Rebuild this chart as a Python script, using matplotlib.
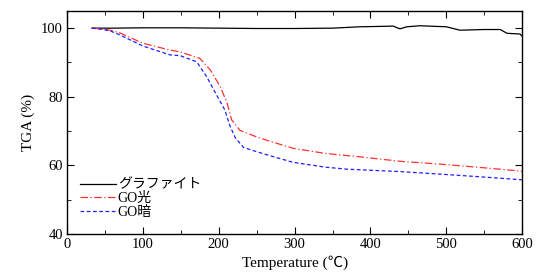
import matplotlib
matplotlib.use('Agg')
import matplotlib.pyplot as plt
from matplotlib.ticker import MultipleLocator

plt.rcParams['font.family'] = ['Liberation Serif', 'Noto Sans CJK JP']

# graphite (black)
t_gr = [33, 60, 100, 150, 200, 250, 300, 350, 386, 410, 430, 439, 448, 465, 500, 518, 549, 571, 580, 597, 600]
v_gr = [100.0, 100.0, 100.1, 100.1, 100.0, 99.9, 99.9, 100.0, 100.4, 100.5, 100.6, 99.8, 100.4, 100.7, 100.4, 99.4, 99.6, 99.6, 98.5, 98.3, 97.7]

# GO light (red)
t_r = [33, 45, 57, 70, 100, 136, 149, 175, 189, 202, 211, 217, 228, 250, 268, 298, 340, 386, 439, 496, 550, 600]
v_r = [100.0, 99.8, 99.4, 98.6, 95.6, 93.6, 93.1, 91.2, 87.8, 83.0, 78.2, 73.3, 70.2, 68.3, 67.0, 65.0, 63.5, 62.5, 61.2, 60.3, 59.3, 58.3]

# GO dark (blue)
t_b = [33, 45, 57, 70, 100, 136, 149, 171, 184, 197, 208, 215, 222, 233, 250, 268, 298, 340, 369, 439, 496, 550, 600]
v_b = [100.0, 99.7, 99.2, 98.0, 94.8, 92.2, 92.0, 90.2, 85.9, 80.6, 76.2, 71.4, 68.0, 65.2, 64.0, 62.8, 60.9, 59.5, 58.9, 58.2, 57.4, 56.6, 55.8]

labels = ['グラファイト', 'GO光', 'GO暗']

fig = plt.figure(figsize=(5.4, 2.75), dpi=100)
ax = fig.add_axes([0.124, 0.149, 0.843, 0.811])

ax.plot(t_gr, v_gr, color='black', lw=0.9, label=labels[0])
ax.plot(t_r, v_r, color='#ff3030', lw=0.9, ls=(0, (6, 2, 1, 2)), label=labels[1])
ax.plot(t_b, v_b, color='#2020ff', lw=0.9, ls=(0, (3, 2)), label=labels[2])

ax.set_xlim(0, 600)
ax.set_ylim(40, 105)
ax.xaxis.set_major_locator(MultipleLocator(100))
ax.xaxis.set_minor_locator(MultipleLocator(50))
ax.yaxis.set_major_locator(MultipleLocator(20))
ax.yaxis.set_minor_locator(MultipleLocator(10))
ax.tick_params(which='both', direction='in', top=True, right=True, labelsize=10.5, pad=3)
ax.tick_params(which='major', length=5)
ax.tick_params(which='minor', length=3)
for s in ax.spines.values():
    s.set_linewidth(1.0)

ax.set_xlabel('Temperature (℃)', fontsize=11, labelpad=3)
ax.set_ylabel('TGA (%)', fontsize=11, labelpad=4)

ax.legend(loc='lower left', bbox_to_anchor=(0.020, 0.049), frameon=False, fontsize=10,
          handlelength=2.6, handletextpad=0.1, labelspacing=0.05, borderpad=0.3,
          borderaxespad=0.0)

fig.savefig('out.png', dpi=100)
